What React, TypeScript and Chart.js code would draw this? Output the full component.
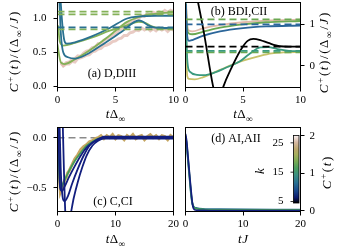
import React, { useEffect, useRef } from "react";
import { Chart, registerables } from "chart.js";

Chart.register(...registerables);

// ---------------- Panel (a) D,DIII ----------------
const aXTicks = [0, 5, 10];
const aYTicks = [0, 0.5, 1.0];
const aTeal1T = [0.25, 0.45, 0.6, 0.8, 1.5, 3, 4.5, 6, 7, 8.5, 10];
const aTeal1V = [1.3, 0.85, 0.67, 0.63, 0.65, 0.74, 0.86, 1.0, 1.03, 1.04, 1.04];
const aTeal2T = [0.15, 0.3, 0.5, 0.9, 1.5, 2.5, 4, 5.5, 7, 7.3, 7.8, 8.3, 9, 10];
const aTeal2V = [1.3, 0.75, 0.5, 0.43, 0.41, 0.47, 0.63, 0.8, 0.97, 0.96, 0.9, 0.87, 0.86, 0.86];
const aGreenLowT = [0, 0.15, 0.3, 0.6, 1.5, 3, 4.5, 6, 7, 8, 9, 10];
const aGreenLowV = [0.62, 0.45, 0.35, 0.33, 0.4, 0.56, 0.75, 0.95, 1.02, 1.06, 1.08, 1.09];
const aGreenUpT = [0.05, 0.2, 0.5, 1.5, 3, 4.5, 6, 7, 7.5, 8.2, 9, 10];
const aGreenUpV = [0.9, 0.66, 0.6, 0.64, 0.72, 0.82, 0.9, 0.95, 0.94, 0.88, 0.85, 0.85];
const aPinkT = [0.3, 0.5, 0.75, 1, 1.25, 1.5, 1.75, 2, 2.25, 2.5, 2.75, 3, 3.25, 3.5, 3.75, 4, 4.25, 4.5, 4.75, 5,
  5.25, 5.5, 5.75, 6, 6.25, 6.5, 6.75, 7, 7.25, 7.5, 7.75, 8, 8.25, 8.5, 8.75, 9, 9.25, 9.5, 9.75, 10];
const aPink1V = [0.36, 0.31, 0.35, 0.36, 0.4, 0.41, 0.45, 0.44, 0.49, 0.52, 0.53, 0.57, 0.58, 0.63, 0.62, 0.68, 0.7, 0.71, 0.76, 0.77,
  0.82, 0.84, 0.87, 0.92, 0.95, 0.97, 1.01, 1.0, 1.04, 1.03, 1.07, 1.05, 1.09, 1.07, 1.1, 1.08, 1.12, 1.09, 1.12, 1.1];
const aPink2V = [0.34, 0.3, 0.33, 0.33, 0.37, 0.36, 0.41, 0.42, 0.44, 0.46, 0.47, 0.51, 0.52, 0.55, 0.56, 0.6, 0.61, 0.63, 0.66, 0.67,
  0.7, 0.71, 0.75, 0.75, 0.79, 0.8, 0.83, 0.82, 0.86, 0.83, 0.86, 0.82, 0.85, 0.82, 0.86, 0.83, 0.85, 0.81, 0.85, 0.83];
const aRefGreenHi = 1.1;
const aRefGreenMid = 1.06;
const aRefTeal = 0.87;
const aRefGreenLo = 0.84;

// ---------------- Panel (b) BDI,CII ----------------
const bXTicks = [0, 5, 10];
const bYTicks = [0, 1];
const bPinkT = [0.05, 0.15, 0.3, 0.6, 1.5, 3, 5, 7, 10];
const bPinkV = [1.5, 1.0, 0.85, 0.83, 0.9, 0.98, 1.05, 1.09, 1.11];
const bGreenT = [0.04, 0.12, 0.3, 0.6, 1.5, 3, 5, 7, 10];
const bGreenV = [1.5, 0.95, 0.78, 0.76, 0.82, 0.92, 1.0, 1.05, 1.08];
const bBlueT = [0.03, 0.1, 0.3, 0.6, 1.5, 3, 5, 7, 10];
const bBlueV = [1.5, 0.9, 0.6, 0.62, 0.72, 0.83, 0.91, 0.95, 0.97];
const bTealT = [0.03, 0.1, 0.2, 0.4, 1.0, 1.6, 2.5, 3.5, 4.7, 5.5, 6.5, 7.2, 8, 9, 10];
const bTealV = [1.5, 0.5, 0.0, -0.15, -0.22, -0.23, -0.17, -0.05, 0.1, 0.27, 0.44, 0.45, 0.4, 0.36, 0.35];
const bYellowT = [0.02, 0.08, 0.15, 0.3, 0.8, 1.5, 3, 5, 6.5, 7.5, 8.5, 10];
const bYellowV = [1.5, 0.3, -0.25, -0.32, -0.33, -0.28, -0.1, 0.12, 0.24, 0.3, 0.32, 0.33];
const bBlackT = [0.9, 1.6, 2.4, 2.7, 2.95, 3.3, 4.0, 4.8, 5.4, 5.9, 6.5, 7.2, 8.2, 9, 10];
const bBlackV = [1.8, 0.8, -0.5, -0.8, -0.85, -0.5, -0.05, 0.38, 0.6, 0.65, 0.62, 0.55, 0.47, 0.46, 0.46];
const bRefGreenHi = 1.12;
const bRefBlue = 1.0;
const bRefBlack = 0.46;
const bRefTeal = 0.36;
const bRefGreenLo = 0.32;

// ---------------- Panel (c) C,CI ----------------
const cXTicks = [0, 10, 20];
const cYTicks = [-0.5, 0];
const cTanT = [0.1, 0.3, 0.5, 0.75, 1, 1.25, 1.5, 1.75, 2, 2.5, 3, 3.5, 4, 4.5, 5, 5.5, 6, 6.5, 7, 7.5, 8, 8.5, 9, 9.5,
  10, 10.5, 11, 11.5, 12, 12.5, 13, 13.5, 14, 14.5, 15, 15.5, 16, 16.5, 17, 17.5, 18, 18.5, 19, 19.5, 20];
const cTanV = [0.15, -0.35, -0.54, -0.5, -0.47, -0.42, -0.4, -0.35, -0.33, -0.27, -0.21, -0.17, -0.12, -0.09, -0.07, -0.04,
  -0.03, -0.01, 0.0, 0.02, -0.01, 0.02, 0.0, 0.03, -0.01, 0.02, 0.01, -0.02, 0.02, 0.0, 0.03, -0.01, 0.01, 0.02, -0.02,
  0.01, 0.03, 0.0, 0.02, -0.01, 0.02, 0.01, -0.02, 0.02, 0.0];
const cGreenT = [0.05, 0.2, 0.4, 0.6, 1, 2, 3, 4, 5, 6, 7, 8, 10, 20];
const cGreenV = [0.15, -0.2, -0.45, -0.5, -0.45, -0.33, -0.23, -0.15, -0.08, -0.04, -0.01, 0, 0, 0];
const cNavy1T = [0.15, 0.3, 0.45, 0.8, 1.2, 2, 3, 4, 5, 6, 7, 8, 20];
const cNavy1V = [0.15, -0.3, -0.5, -0.53, -0.49, -0.39, -0.28, -0.18, -0.1, -0.05, -0.02, 0.01, 0.01];
const cNavy2T = [0.35, 0.55, 0.8, 1.2, 1.8, 2.5, 3.5, 4.5, 5.5, 6.5, 8, 20];
const cNavy2V = [0.15, -0.3, -0.55, -0.63, -0.58, -0.46, -0.31, -0.18, -0.08, -0.03, 0, 0];
const cNavy3T = [0.9, 1.1, 1.35, 1.7, 2.2, 2.8, 3.5, 4.3, 5, 6, 7, 8, 9, 20];
const cNavy3V = [0.15, -0.3, -0.75, -0.9, -0.78, -0.6, -0.44, -0.29, -0.18, -0.08, -0.03, -0.01, -0.01, -0.01];
const cRefZero = 0;

// ---------------- Panel (d) AI,AII ----------------
const dXTicks = [0, 10, 20];
const dYTicks = [0, 1, 2];
const dNavyT = [0, 0.2, 0.4, 0.6, 0.8, 1.0, 1.2, 1.4, 1.7, 2.5, 5, 20];
const dNavyV = [2.05, 1.85, 1.5, 1.15, 0.8, 0.48, 0.2, 0.06, 0.02, 0.01, 0, 0];
const dGreenT = [0, 0.2, 0.4, 0.6, 0.8, 1.0, 1.2, 1.4, 1.8, 2.5, 4, 20];
const dGreenV = [2.0, 1.8, 1.45, 1.1, 0.75, 0.42, 0.2, 0.1, 0.06, 0.04, 0.02, 0.02];
const dTealT = [0, 0.2, 0.4, 0.6, 0.8, 1.0, 1.2, 1.5, 2, 3, 6, 20];
const dTealV = [1.98, 1.75, 1.4, 1.05, 0.7, 0.38, 0.18, 0.1, 0.07, 0.05, 0.04, 0.03];
const kTicks = [5, 15, 25];
const kMin = 4.5;
const kMax = 27.5;

// ---------------- styling ----------------
const W = 339;
const H = 250;
const XH = 20;
const SERIF = '"Liberation Serif", "Times New Roman", serif';
const C = {
  pink: "rgba(226,186,176,0.75)",
  pinkB: "#e2b9aa",
  tan: "#c6a762",
  yellow: "#c8c26a",
  greenA: "#84b158",
  greenB: "#6aa852",
  greenC: "#449a58",
  tealG: "#3a9a7e",
  teal: "#2a7190",
  blue: "#2b669a",
  navy: "#121e7e",
  black: "#000000",
  gray: "#8a8a8a",
};
const GIST = [
  [0.0, "#000000"], [0.08, "#0b1a6e"], [0.18, "#17468a"], [0.3, "#277092"], [0.42, "#3a9080"],
  [0.52, "#4b9e5c"], [0.62, "#7aab55"], [0.72, "#a7b05e"], [0.8, "#bca66b"], [0.9, "#d6b9a4"], [1.0, "#f8f0f0"],
] as [number, string][];

type Seg = { s: string; it?: boolean; sup?: boolean; sub?: boolean };
const yTitle: Seg[] = [
  { s: "C", it: true }, { s: "+", sup: true }, { s: "(" }, { s: "t", it: true }, { s: ")/(Δ" },
  { s: "∞", sub: true }, { s: "/" }, { s: "J", it: true }, { s: ")" },
];
const xTitle: Seg[] = [{ s: "t", it: true }, { s: "Δ" }, { s: "∞", sub: true }];
const dxTitle: Seg[] = [{ s: "tJ", it: true }];
const dyTitle: Seg[] = [{ s: "C", it: true }, { s: "+", sup: true }, { s: "(" }, { s: "t", it: true }, { s: ")" }];
const kTitle: Seg[] = [{ s: "k", it: true }];

function segFont(size: number, g: Seg) {
  const sz = g.sup || g.sub ? size * 0.72 : size;
  return `${g.it ? "italic " : ""}${sz}px ${SERIF}`;
}
function drawRich(ctx: CanvasRenderingContext2D, segs: Seg[], x: number, y: number, size: number, rot = 0, sp = 1.6) {
  ctx.save();
  ctx.translate(x, y);
  if (rot) ctx.rotate(rot);
  let w = 0;
  let n = 0;
  for (const g of segs) {
    ctx.font = segFont(size, g);
    for (const ch of Array.from(g.s)) {
      w += ctx.measureText(ch).width;
      n++;
    }
  }
  w += sp * (n - 1);
  let cx = -w / 2;
  ctx.textBaseline = "alphabetic";
  ctx.textAlign = "left";
  ctx.fillStyle = "#000";
  const base = size * 0.33;
  for (const g of segs) {
    ctx.font = segFont(size, g);
    const dy = g.sup ? -size * 0.36 : g.sub ? size * 0.26 : 0;
    for (const ch of Array.from(g.s)) {
      ctx.fillText(ch, cx, base + dy);
      cx += ctx.measureText(ch).width + sp;
    }
  }
  ctx.restore();
}
function drawLabel(ctx: CanvasRenderingContext2D, s: string, x: number, y: number, size: number) {
  ctx.save();
  ctx.font = `${size}px ${SERIF}`;
  ctx.fillStyle = "#000";
  ctx.textAlign = "center";
  ctx.textBaseline = "middle";
  ctx.fillText(s, x, y);
  ctx.restore();
}

const pts = (t: number[], v: number[]) => t.map((x, i) => ({ x, y: v[i] }));
const solid = (t: number[], v: number[], color: string, width = 1.8) => ({
  data: pts(t, v), borderColor: color, borderWidth: width, cubicInterpolationMode: "monotone",
  clip: 0, pointRadius: 0, fill: false,
});
const noisy = (t: number[], v: number[], color: string, width = 3) => ({
  data: pts(t, v), borderColor: color, borderWidth: width, tension: 0, clip: 0, pointRadius: 0, fill: false,
});
const dashed = (v: number, x0: number, x1: number, color: string, width = 1.8) => ({
  data: [{ x: x0, y: v }, { x: x1, y: v }], borderColor: color, borderWidth: width, borderDash: [7, 4],
  clip: 0, pointRadius: 0, fill: false,
});

interface Panel {
  key: string;
  l: number; r: number; t: number; b: number;
  xMin: number; xMax: number; xTicks: number[];
  yMin: number; yMax: number; yTicks: number[];
  ySide: "left" | "right";
  yPad: number;
  yFmt: (v: number) => string;
  datasets: any[];
  extra: (ctx: CanvasRenderingContext2D) => void;
}

function makeConfig(p: Panel): any {
  const left = p.ySide === "left";
  const tickFont = { family: SERIF, size: 11 };
  const grid = { display: true, drawOnChartArea: false, drawTicks: true, tickLength: 4, color: "#000", lineWidth: 1 };
  return {
    type: "line",
    data: { datasets: p.datasets },
    options: {
      animation: false,
      responsive: false,
      devicePixelRatio: 1,
      events: [],
      layout: { padding: { left: left ? 0 : p.l, right: left ? W - p.r : 0, top: p.t, bottom: H - p.b - XH } },
      plugins: { legend: { display: false }, tooltip: { enabled: false }, title: { display: false } },
      elements: { point: { radius: 0, hitRadius: 0 } },
      scales: {
        x: {
          type: "linear", position: "bottom", min: p.xMin, max: p.xMax,
          grid, border: { display: false },
          ticks: { color: "#000", font: tickFont, padding: 2, maxRotation: 0, autoSkip: false, callback: (v: number) => String(v) },
          afterBuildTicks: (s: any) => { s.ticks = p.xTicks.map((v) => ({ value: v })); },
          afterFit: (s: any) => { s.height = XH; s.paddingLeft = 0; s.paddingRight = 0; s.paddingTop = 0; s.paddingBottom = 0; },
        },
        y: {
          type: "linear", position: p.ySide, min: p.yMin, max: p.yMax,
          grid, border: { display: false },
          ticks: { color: "#000", font: tickFont, padding: p.yPad, autoSkip: false, callback: (v: number) => p.yFmt(v) },
          afterBuildTicks: (s: any) => { s.ticks = p.yTicks.map((v) => ({ value: v })); },
          afterFit: (s: any) => {
            s.width = left ? p.l : W - p.r;
            s.paddingLeft = 0; s.paddingRight = 0; s.paddingTop = 0; s.paddingBottom = 0;
          },
        },
      },
    },
    plugins: [
      {
        id: "decor" + p.key,
        afterDraw(chart: any) {
          const ctx: CanvasRenderingContext2D = chart.ctx;
          const a = chart.chartArea;
          ctx.save();
          ctx.strokeStyle = "#000";
          ctx.lineWidth = 1;
          ctx.strokeRect(a.left, a.top, a.right - a.left, a.bottom - a.top);
          ctx.restore();
          p.extra(ctx);
        },
      },
    ],
  };
}

const panels: Panel[] = [
  {
    key: "a", l: 57.5, r: 173.5, t: 2.5, b: 87.5,
    xMin: 0, xMax: 10, xTicks: aXTicks, yMin: -0.015, yMax: 1.235, yTicks: aYTicks,
    ySide: "left", yPad: 7, yFmt: (v) => v.toFixed(1),
    datasets: [
      dashed(aRefGreenHi, 0, 10, C.greenA),
      dashed(aRefGreenMid, 0, 10, C.greenA),
      dashed(aRefTeal, 0, 10, C.teal),
      dashed(aRefGreenLo, 0, 10, C.greenA),
      solid(aTeal1T, aTeal1V, C.teal),
      solid(aTeal2T, aTeal2V, C.teal),
      solid(aGreenUpT, aGreenUpV, C.greenA),
      solid(aGreenLowT, aGreenLowV, C.greenA),
      noisy(aPinkT, aPink1V, C.pink),
      noisy(aPinkT, aPink2V, C.pink),
    ],
    extra: (ctx) => {
      drawLabel(ctx, "(a) D,DIII", 112, 74, 12);
      drawRich(ctx, yTitle, 14, 52, 13, -Math.PI / 2);
      drawRich(ctx, xTitle, 115.5, 114, 13, 0, 0.4);
    },
  },
  {
    key: "b", l: 185.5, r: 300.5, t: 2.5, b: 87.5,
    xMin: 0, xMax: 10, xTicks: bXTicks, yMin: -0.527, yMax: 1.527, yTicks: bYTicks,
    ySide: "right", yPad: 5, yFmt: (v) => String(v),
    datasets: [
      dashed(bRefGreenHi, 0, 10, C.greenB),
      dashed(bRefBlue, 0, 10, C.blue),
      dashed(bRefBlack, 0, 10, C.black),
      dashed(bRefTeal, 0, 10, C.tealG),
      dashed(bRefGreenLo, 0, 10, C.greenB),
      solid(bBlackT, bBlackV, C.black),
      solid(bBlueT, bBlueV, C.blue),
      solid(bTealT, bTealV, C.tealG),
      solid(bYellowT, bYellowV, C.yellow),
      solid(bGreenT, bGreenV, C.greenB),
      solid(bPinkT, bPinkV, C.pinkB),
    ],
    extra: (ctx) => {
      drawLabel(ctx, "(b) BDI,CII", 239, 12, 12);
      drawRich(ctx, yTitle, 324, 53, 13, -Math.PI / 2);
      drawRich(ctx, xTitle, 243, 114, 13, 0, 0.4);
    },
  },
  {
    key: "c", l: 57.5, r: 173.5, t: 127.5, b: 211.5,
    xMin: 0, xMax: 20, xTicks: cXTicks, yMin: -0.734, yMax: 0.101, yTicks: cYTicks,
    ySide: "left", yPad: 7, yFmt: (v) => (v < 0 ? "−" + Math.abs(v).toFixed(1) : v.toFixed(1)),
    datasets: [
      solid(cNavy1T, cNavy1V, C.navy),
      solid(cNavy2T, cNavy2V, C.navy),
      solid(cNavy3T, cNavy3V, C.navy),
      solid(cGreenT, cGreenV, C.greenC),
      noisy(cTanT, cTanV, C.tan),
      dashed(cRefZero, 0, 20, C.gray, 1.5),
    ],
    extra: (ctx) => {
      drawLabel(ctx, "(c) C,CI", 113, 202, 12);
      drawRich(ctx, yTitle, 14, 172, 13, -Math.PI / 2);
      drawRich(ctx, xTitle, 115.5, 239, 13, 0, 0.4);
    },
  },
  {
    key: "d", l: 185.5, r: 300.5, t: 127.5, b: 211.5,
    xMin: 0, xMax: 20, xTicks: dXTicks, yMin: -0.02, yMax: 2.22, yTicks: dYTicks,
    ySide: "right", yPad: 5, yFmt: (v) => String(v),
    datasets: [
      solid(dNavyT, dNavyV, C.navy),
      solid(dGreenT, dGreenV, C.greenC),
      solid(dTealT, dTealV, C.teal),
    ],
    extra: (ctx) => {
      drawLabel(ctx, "(d) AI,AII", 236, 139, 12);
      drawRich(ctx, dyTitle, 327, 173, 13, -Math.PI / 2);
      drawRich(ctx, dxTitle, 243, 239, 13, 0, 0.6);
      // colorbar
      const x0 = 293.5, x1 = 299, y0 = 135.5, y1 = 203;
      const g = ctx.createLinearGradient(0, y1, 0, y0);
      GIST.forEach(([s, c]) => g.addColorStop(s, c));
      ctx.save();
      ctx.fillStyle = g;
      ctx.fillRect(x0, y0, x1 - x0, y1 - y0);
      ctx.strokeStyle = "#000";
      ctx.lineWidth = 0.8;
      ctx.strokeRect(x0, y0, x1 - x0, y1 - y0);
      ctx.font = `11px ${SERIF}`;
      ctx.fillStyle = "#000";
      ctx.textAlign = "right";
      ctx.textBaseline = "middle";
      kTicks.forEach((k) => {
        const y = y1 - ((k - kMin) / (kMax - kMin)) * (y1 - y0);
        ctx.beginPath();
        ctx.moveTo(x0, y);
        ctx.lineTo(x0 - 3, y);
        ctx.stroke();
        ctx.fillText(String(k), x0 - 10, y);
      });
      ctx.restore();
      drawRich(ctx, kTitle, 260, 171, 13, -Math.PI / 2);
    },
  },
];

export default function App() {
  const r0 = useRef<HTMLCanvasElement>(null);
  const r1 = useRef<HTMLCanvasElement>(null);
  const r2 = useRef<HTMLCanvasElement>(null);
  const r3 = useRef<HTMLCanvasElement>(null);
  const refs = [r0, r1, r2, r3];
  useEffect(() => {
    const charts = panels.map((p, i) => new Chart(refs[i].current as HTMLCanvasElement, makeConfig(p)));
    return () => charts.forEach((c) => c.destroy());
  }, []);
  return (
    <div style={{ position: "fixed", left: 0, top: 0, width: W, height: H, background: "#fff" }}>
      {refs.map((r, i) => (
        <canvas key={i} ref={r} width={W} height={H}
          style={{ position: "absolute", left: 0, top: 0, width: W, height: H }} />
      ))}
    </div>
  );
}
